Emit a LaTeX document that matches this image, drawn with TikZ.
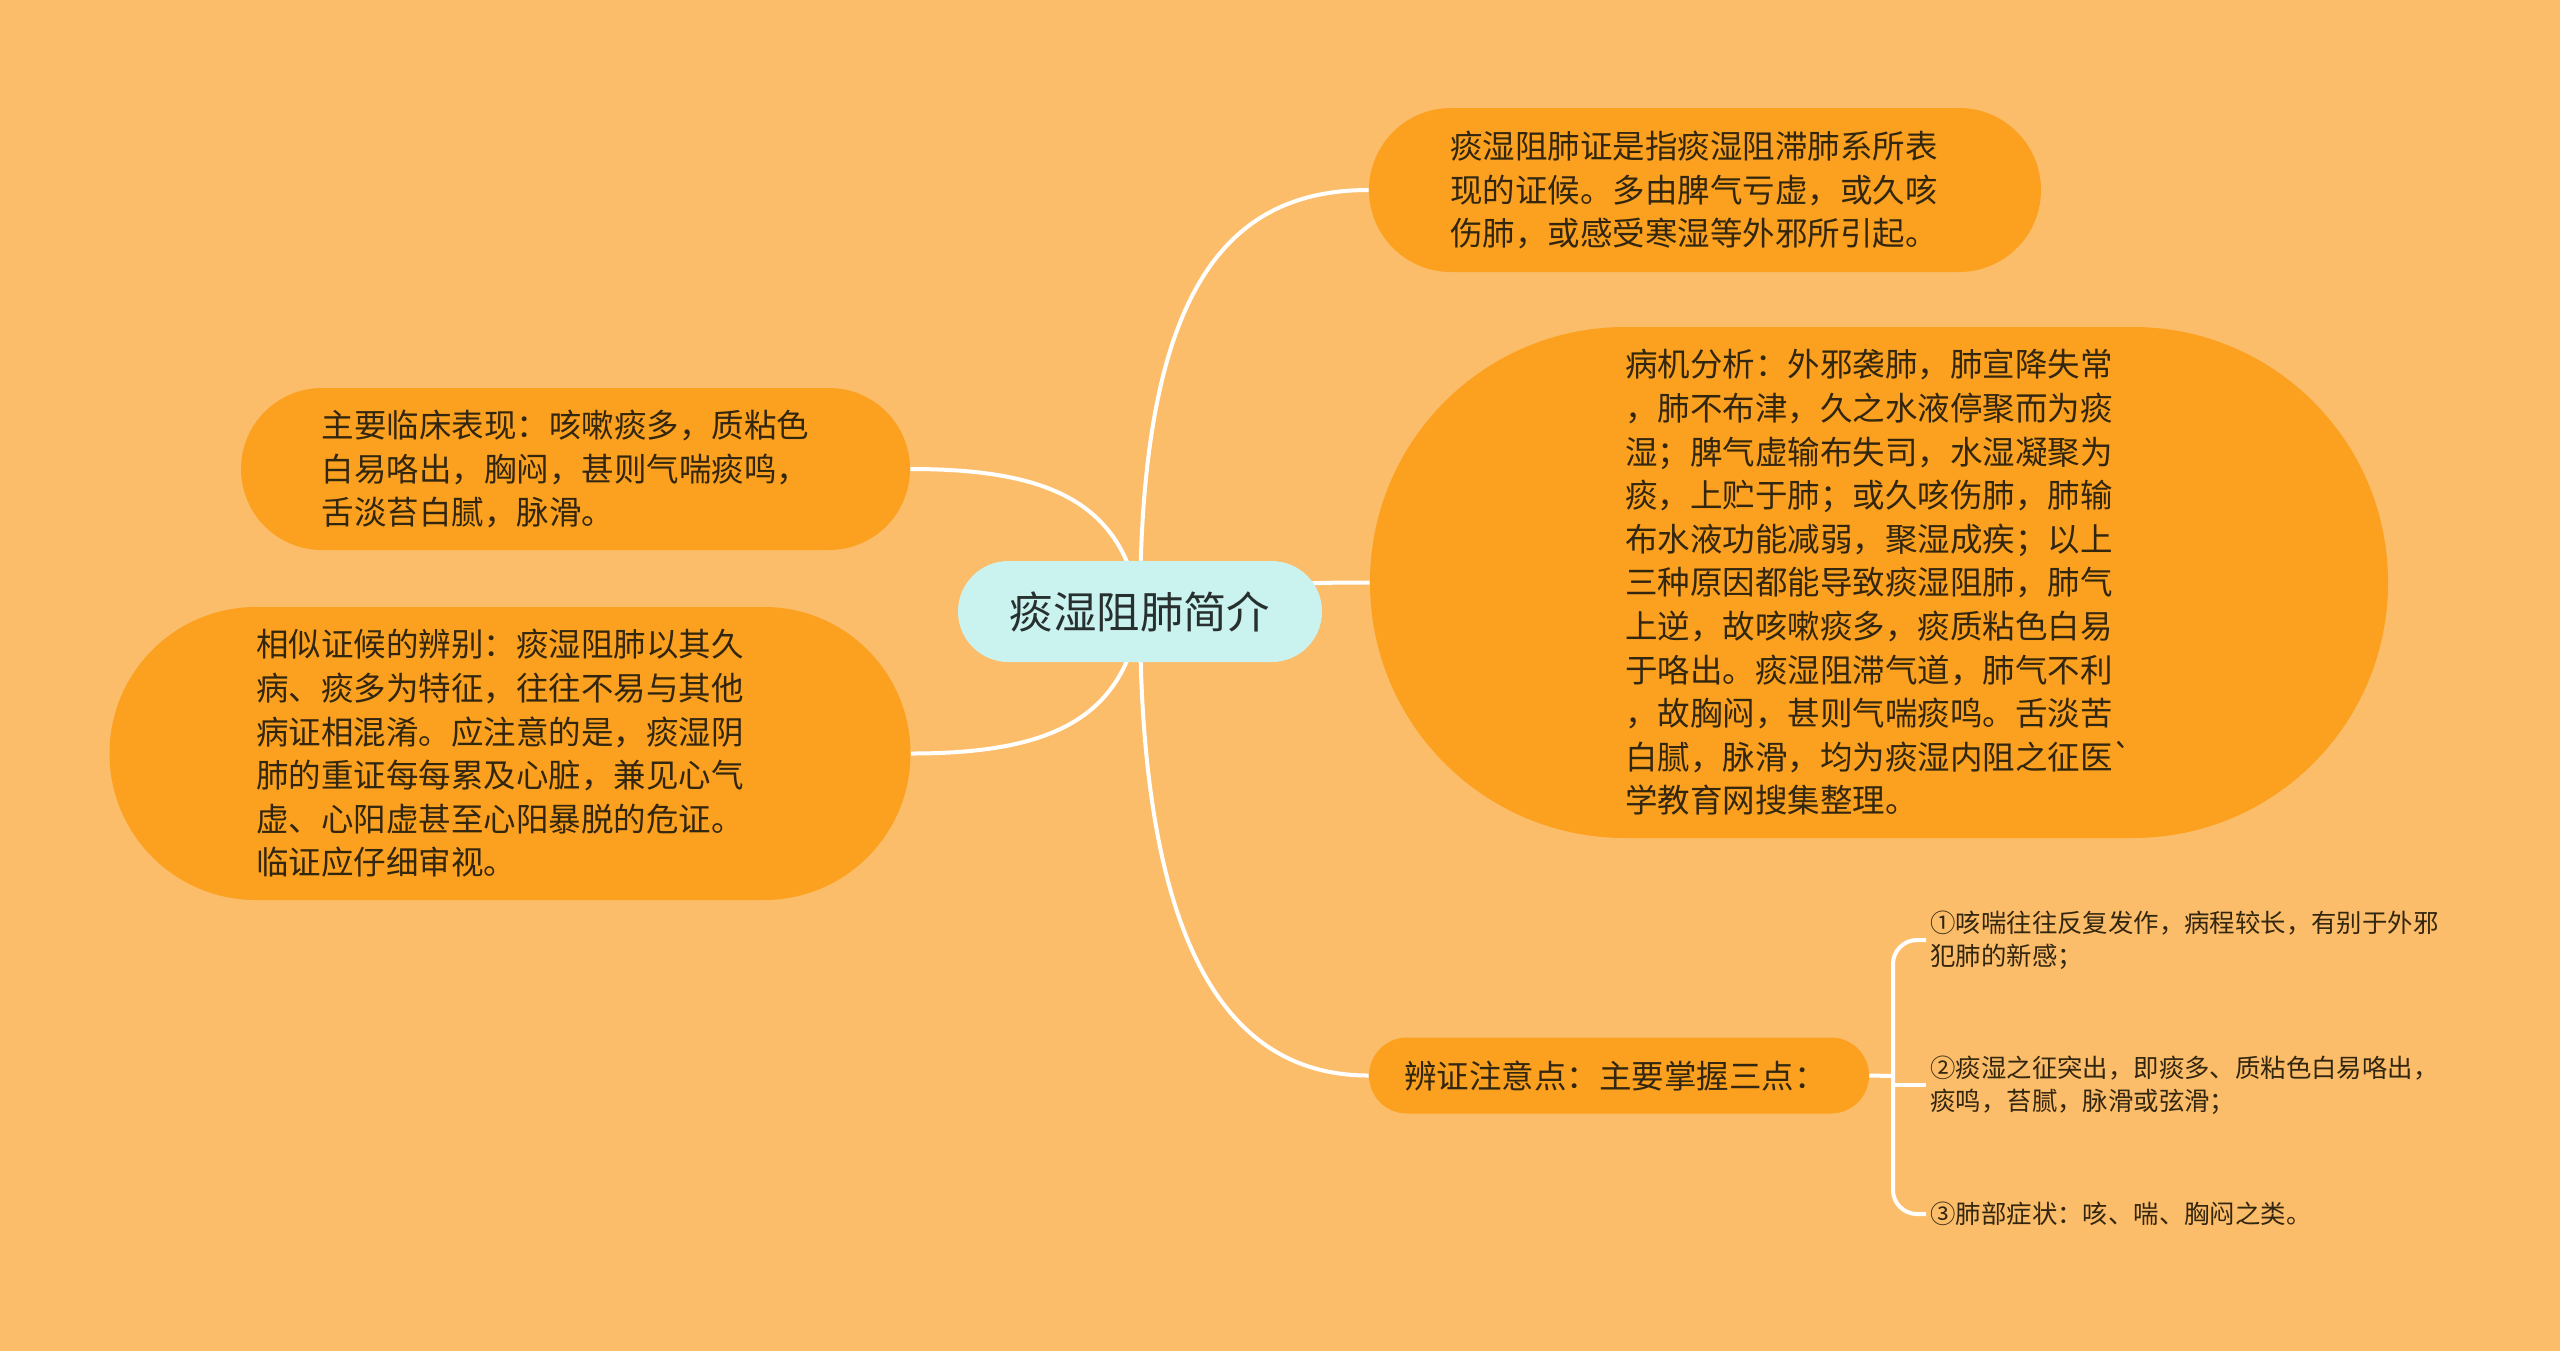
\documentclass[tikz,border=0pt]{standalone}
\usepackage{fontspec}
\newfontfamily\cjk{Noto Sans CJK SC}
\definecolor{bgc}{HTML}{FCBD6A}
\definecolor{nodec}{HTML}{FBA11F}
\definecolor{ctrc}{HTML}{CAF2EF}
\definecolor{txtc}{HTML}{33260F}
\definecolor{ctrtxt}{HTML}{27302F}
\pgfdeclarelayer{bgl}
\pgfdeclarelayer{conn}
\pgfsetlayers{bgl,conn,main}
\begin{document}
\begin{tikzpicture}[x=0.5pt,y=-0.5pt,
  topic/.style={fill=nodec, text=txtc, align=left, inner sep=0pt,
    font=\cjk\fontsize{16.25pt}{21.8pt}\selectfont},
  link/.style={draw=white, line width=2pt},
  leaf/.style={text=txtc, align=left, anchor=west, inner sep=2pt,
    font=\cjk\fontsize{12.7pt}{16.5pt}\selectfont}]

\begin{pgfonlayer}{bgl}
  \fill[bgc] (0,0) rectangle (2560,1351);
\end{pgfonlayer}
\useasboundingbox (0,0) rectangle (2560,1351);

% central topic
\node[topic, fill=ctrc, text=ctrtxt, align=center,
  minimum width=182pt, minimum height=50.5pt, rounded corners=25.2pt,
  font=\cjk\fontsize{21.7pt}{26pt}\selectfont] (ctr) at (1140,611.5) {痰湿阻肺简介};

% right side
\node[topic, text width=255pt, minimum width=336pt, minimum height=82pt, rounded corners=41pt] (tr) at (1705,190)
  {痰湿阻肺证是指痰湿阻滞肺系所表\\现的证候。多由脾气亏虚，或久咳\\伤肺，或感受寒湿等外邪所引起。};

\node[topic, minimum width=509pt, minimum height=255.5pt, rounded corners=127.5pt] (big) at (1879,582.5)
  {病机分析：外邪袭肺，肺宣降失常\\，肺不布津，久之水液停聚而为痰\\湿；脾气虚输布失司，水湿凝聚为\\痰，上贮于肺；或久咳伤肺，肺输\\布水液功能减弱，聚湿成疾；以上\\三种原因都能导致痰湿阻肺，肺气\\上逆，故咳嗽痰多，痰质粘色白易\\于咯出。痰湿阻滞气道，肺气不利\\，故胸闷，甚则气喘痰鸣。舌淡苦\\白腻，脉滑，均为痰湿内阻之征医\symbol{96}\\学教育网搜集整理。};

\node[topic, text width=215pt, minimum width=250pt, minimum height=38pt, rounded corners=19pt,
  font=\cjk\fontsize{16.25pt}{20pt}\selectfont] (brk) at (1619,1075.5)
  {辨证注意点：主要掌握三点：};

% left side
\node[topic, text width=254pt, minimum width=334.5pt, minimum height=81pt, rounded corners=40.5pt] (lt) at (575.5,469)
  {主要临床表现：咳嗽痰多，质粘色\\白易咯出，胸闷，甚则气喘痰鸣，\\舌淡苔白腻，脉滑。};

\node[topic, text width=254pt, minimum width=400.5pt, minimum height=146.5pt, rounded corners=73.2pt] (lb) at (510,753.5)
  {相似证候的辨别：痰湿阻肺以其久\\病、痰多为特征，往往不易与其他\\病证相混淆。应注意的是，痰湿阴\\肺的重证每每累及心脏，兼见心气\\虚、心阳虚甚至心阳暴脱的危证。\\临证应仔细审视。};

% leaves
\node[leaf] (l1) at (1926,940) {①咳喘往往反复发作，病程较长，有别于外邪\\犯肺的新感；};
\node[leaf] (l2) at (1926,1085) {②痰湿之征突出，即痰多、质粘色白易咯出，\\痰鸣，苔腻，脉滑或弦滑；};
\node[leaf] (l3) at (1926,1214) {③肺部症状：咳、喘、胸闷之类。};

\coordinate (hub) at (1893,1076);

\begin{pgfonlayer}{conn}
  \draw[link] (ctr.center) .. controls (1140,300) and (1220,190) .. (tr.west);
  \draw[link] (ctr.center) .. controls (1250,583) and (1300,582.5) .. (big.west);
  \draw[link] (ctr.center) .. controls (1140,955) and (1232,1075.5) .. (brk.west);
  \draw[link] (ctr.center) .. controls (1125,500) and (1045,469) .. (lt.east);
  \draw[link] (ctr.center) .. controls (1125,722) and (1045,753.5) .. (lb.east);
  \draw[link] (brk.east) -- (hub);
  \draw[link, rounded corners=12pt] (hub) |- (l1.west);
  \draw[link, rounded corners=12pt] (hub) |- (l3.west);
  \draw[link] (hub) -- (hub |- l2.west) -- (l2.west);
\end{pgfonlayer}
\end{tikzpicture}
\end{document}
